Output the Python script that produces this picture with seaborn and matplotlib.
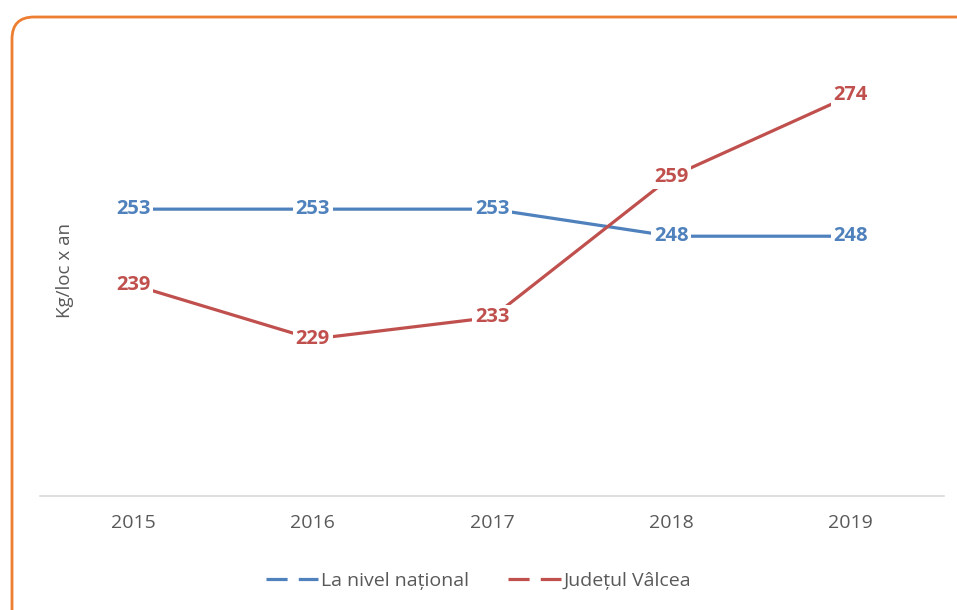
import numpy as np
import pandas as pd
import matplotlib.pyplot as plt
from matplotlib.patches import FancyBboxPatch
from matplotlib.lines import Line2D
import seaborn as sns

ani = ['2015', '2016', '2017', '2018', '2019']
national = [253, 253, 253, 248, 248]
valcea = [239, 229, 233, 259, 274]
serii = ['La nivel național', 'Județul Vâlcea']
culori = ['#4F81BD', '#C0504D']

df = pd.DataFrame({
    'an': ani * 2,
    'valoare': national + valcea,
    'serie': [serii[0]] * 5 + [serii[1]] * 5,
})

sns.set_style('white')
plt.rcParams['font.family'] = ['Open Sans', 'DejaVu Sans']

fig = plt.figure(figsize=(9.57, 6.10), dpi=100)
ax = fig.add_axes([0.0418, 0.1869, 0.9446, 0.7098])

sns.lineplot(data=df, x='an', y='valoare', hue='serie', palette=culori,
             linewidth=2.3, ax=ax, legend=False, sort=False)

ax.set_xlim(-0.52, 4.52)
ax.set_ylim(200, 280)
ax.set_yticks([])
ax.set_xlabel('')
ax.set_ylabel('Kg/loc x an', color='#595959', fontsize=13.5)
ax.yaxis.set_label_coords(34 / 904, 0.52)
ax.tick_params(axis='x', length=0, labelsize=14, colors='#595959', pad=13)
for s in ['top', 'right', 'left']:
    ax.spines[s].set_visible(False)
ax.spines['bottom'].set_color('#D9D9D9')
ax.spines['bottom'].set_linewidth(1.2)

for vals, c in zip([national, valcea], culori):
    for i, v in enumerate(vals):
        ax.text(i, v, str(v), ha='center', va='center', fontsize=14.5,
                fontweight='bold', color=c,
                bbox=dict(facecolor='white', edgecolor='none', pad=2.0))

handles = [Line2D([0], [0], color=c, lw=2.3, linestyle=(0, (6.6, 3.5))) for c in culori]
fig.legend(handles, serii, loc='center', bbox_to_anchor=(0.5, 0.048), ncol=2,
           frameon=False, fontsize=14, labelcolor='#595959', handlelength=2.7,
           handletextpad=0.15, columnspacing=2.0)

border = FancyBboxPatch((0.12, -0.5), 10.0, 6.43,
                        boxstyle='round,pad=0,rounding_size=0.22',
                        transform=fig.dpi_scale_trans, facecolor='none',
                        edgecolor='#ED7D31', linewidth=2, clip_on=False)
fig.patches.append(border)

fig.savefig('out.png', dpi=100)
